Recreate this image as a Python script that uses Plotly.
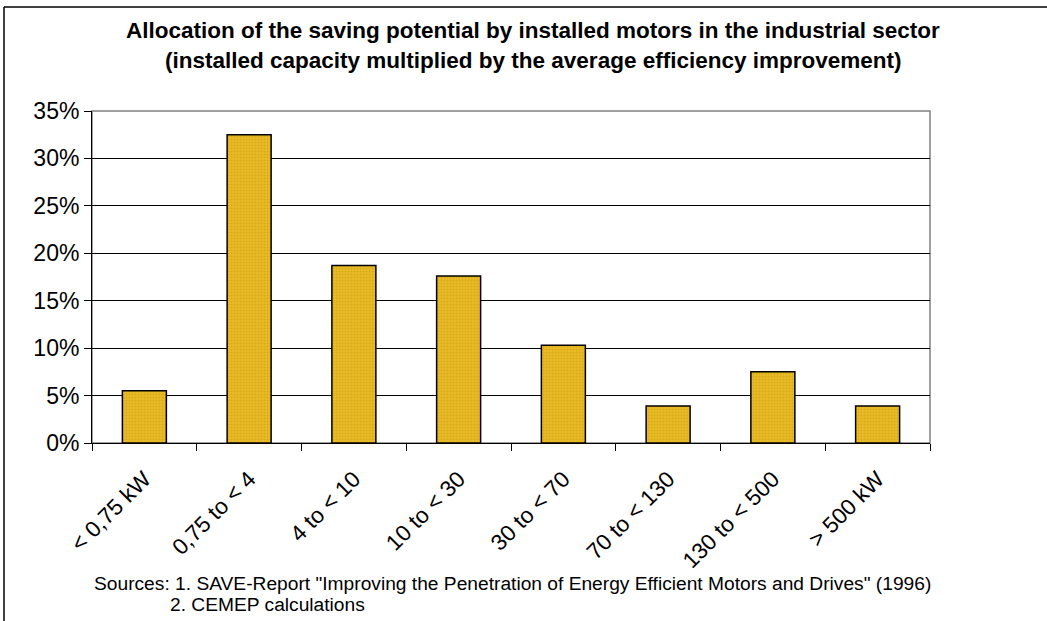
import plotly.graph_objects as go

categories = ["< 0,75 kW", "0,75 to < 4", "4 to < 10", "10 to < 30",
              "30 to < 70", "70 to < 130", "130 to < 500", "> 500 kW"]
saving_share = [5.5, 32.5, 18.7, 17.6, 10.3, 3.9, 7.5, 3.9]
y_ticks = [0, 5, 10, 15, 20, 25, 30, 35]

title_line1 = "Allocation of the saving potential by installed motors in the industrial sector"
title_line2 = "(installed capacity multiplied by the average efficiency improvement)"
source_line1 = 'Sources: 1. SAVE-Report "Improving the Penetration of Energy Efficient Motors and Drives" (1996)'
source_line2 = "2. CEMEP calculations"

W, H = 1047, 621
L, R, T, B = 92, 117, 111, 178
pw, ph = W - L - R, H - T - B

FONT = "Liberation Sans, Arial, sans-serif"

fig = go.Figure()
fig.add_trace(go.Bar(
    x=categories, y=saving_share,
    marker=dict(color="#E2B21E",
                line=dict(color="#000000", width=1.5),
                pattern=dict(shape=".", fgcolor="#C9980F", bgcolor="#E8BB26",
                             size=3, solidity=0.35)),
    width=0.42,
    hoverinfo="x+y",
))

def px_x(px):
    return (px - L) / pw

def px_y(py):
    return (H - B - py) / ph

frame = dict(color="#000000", width=1.5)

fig.update_layout(
    width=W, height=H,
    margin=dict(l=L, r=R, t=T, b=B, autoexpand=False),
    paper_bgcolor="white", plot_bgcolor="white",
    font=dict(family=FONT, color="black"),
    showlegend=False,
    xaxis=dict(type="category", tickson="boundaries", ticks="outside",
               ticklen=7, tickcolor="black", tickwidth=1,
               showline=True, linecolor="black", linewidth=1,
               tickangle=-45, tickfont=dict(size=22.5, family=FONT),
               ticklabelstandoff=13, showgrid=False, range=[-0.5, 7.5]),
    yaxis=dict(range=[0, 35], tickvals=y_ticks,
               ticktext=[f"{v}%" for v in y_ticks],
               ticks="outside", ticklen=7, tickcolor="black",
               showline=True, linecolor="black", linewidth=1,
               showgrid=True, gridcolor="#000000", gridwidth=1,
               tickfont=dict(size=23, family=FONT), zeroline=False),
    shapes=[
        dict(type="rect", xref="paper", yref="paper", x0=0, x1=1, y0=0, y1=1,
             line=dict(color="#808080", width=1.5), layer="below"),
        dict(type="line", xref="paper", yref="paper",
             x0=px_x(4), x1=px_x(1047), y0=px_y(7), y1=px_y(7), line=frame),
        dict(type="line", xref="paper", yref="paper",
             x0=px_x(4), x1=px_x(4), y0=px_y(7), y1=px_y(621), line=frame),
    ],
    annotations=[
        dict(text="<b>" + title_line1 + "</b>", xref="paper", yref="paper",
             x=px_x(533), y=px_y(30), showarrow=False,
             font=dict(size=22.5, family=FONT), xanchor="center", yanchor="middle"),
        dict(text="<b>" + title_line2 + "</b>", xref="paper", yref="paper",
             x=px_x(533), y=px_y(60), showarrow=False,
             font=dict(size=22.5, family=FONT), xanchor="center", yanchor="middle"),
        dict(text=source_line1, xref="paper", yref="paper",
             x=px_x(92), y=px_y(583), showarrow=False,
             font=dict(size=19.2, family=FONT), xanchor="left", yanchor="middle"),
        dict(text=source_line2, xref="paper", yref="paper",
             x=px_x(168), y=px_y(604), showarrow=False,
             font=dict(size=19.2, family=FONT), xanchor="left", yanchor="middle"),
    ],
)

fig.write_html("out.html",
               config={"displayModeBar": False},
               post_script="document.body.style.margin='0';document.body.style.overflow='hidden';")
